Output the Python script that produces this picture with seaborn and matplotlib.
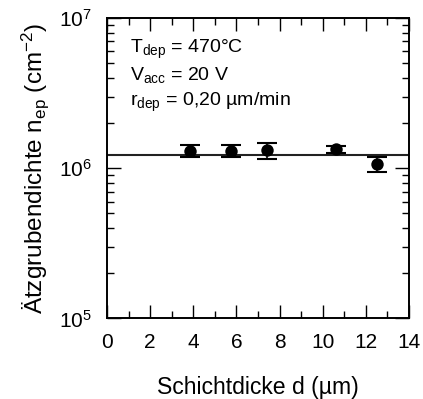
import numpy as np
import pandas as pd
import matplotlib
matplotlib.use("Agg")
import matplotlib.pyplot as plt
from matplotlib.ticker import MultipleLocator, LogLocator, NullFormatter
import seaborn as sns

# Measured etch-pit density versus layer thickness
thickness_um = [3.85, 5.75, 7.4, 10.6, 12.5]
pit_density = [1.31e6, 1.31e6, 1.32e6, 1.34e6, 1.07e6]
density_low = [1.19e6, 1.19e6, 1.16e6, 1.26e6, 0.95e6]
density_high = [1.43e6, 1.43e6, 1.48e6, 1.41e6, 1.19e6]
mean_density = 1.22e6

x_ticks = [0, 2, 4, 6, 8, 10, 12, 14]
process_lines = [
    r"T$_{dep}$ = 470°C",
    r"V$_{acc}$ = 20 V",
    r"r$_{dep}$ = 0,20 µm/min",
]

sns.set_theme(style="ticks")
plt.rcParams["font.family"] = ["Liberation Sans", "DejaVu Sans"]
plt.rcParams["mathtext.fontset"] = "custom"
plt.rcParams["mathtext.rm"] = "Liberation Sans"
plt.rcParams["mathtext.it"] = "Liberation Sans"
plt.rcParams["mathtext.bf"] = "Liberation Sans:bold"
plt.rcParams["mathtext.default"] = "regular"

df = pd.DataFrame({"d": thickness_um, "n": pit_density,
                   "lo": density_low, "hi": density_high})

fig = plt.figure(figsize=(4.23, 3.99), dpi=100)
ax = fig.add_axes([0.2530, 0.2018, 0.7139, 0.7531])

ax.axhline(mean_density, color="#222222", lw=1.5, zorder=2)

yerr = np.vstack([df["n"] - df["lo"], df["hi"] - df["n"]])
ax.errorbar(df["d"], df["n"], yerr=yerr, fmt="none", ecolor="black",
            elinewidth=1.2, capsize=7, capthick=1.5, zorder=3)
sns.scatterplot(data=df, x="d", y="n", ax=ax, color="black", s=80,
                edgecolor="black", linewidth=0, zorder=4, legend=False)

ax.set_yscale("log")
ax.set_xlim(0, 14)
ax.set_ylim(1e5, 1e7)
ax.set_xticks(x_ticks)
ax.xaxis.set_minor_locator(MultipleLocator(1))
ax.yaxis.set_major_locator(LogLocator(base=10))
ax.yaxis.set_minor_locator(LogLocator(base=10, subs=np.arange(2, 10)))
ax.yaxis.set_minor_formatter(NullFormatter())

ax.tick_params(axis="both", which="both", direction="in",
               top=True, right=True, colors="black", width=1.0)
ax.tick_params(axis="x", which="major", length=9.4, pad=10.5, labelsize=15)
ax.tick_params(axis="x", which="minor", length=5)
ax.tick_params(axis="y", which="major", length=10, pad=11, labelsize=15)
ax.tick_params(axis="y", which="minor", length=5)

for sp in ax.spines.values():
    sp.set_visible(True)
    sp.set_color("black")
    sp.set_linewidth(1.4)

ax.set_xlabel("Schichtdicke d (µm)", fontsize=16.6, color="black")
ax.set_ylabel(r"Ätzgrubendichte n$_{ep}$ (cm$^{-2}$)", fontsize=17.5,
              color="black")
ax.xaxis.set_label_coords(0.5, -0.19)
ax.yaxis.set_label_coords(-0.185, 0.5)

for text, yfrac in zip(process_lines, [0.8835, 0.795, 0.707]):
    ax.text(0.076, yfrac, text, transform=ax.transAxes, fontsize=14,
            va="baseline", ha="left", color="black")

fig.savefig("out.png", dpi=100, facecolor="white")
